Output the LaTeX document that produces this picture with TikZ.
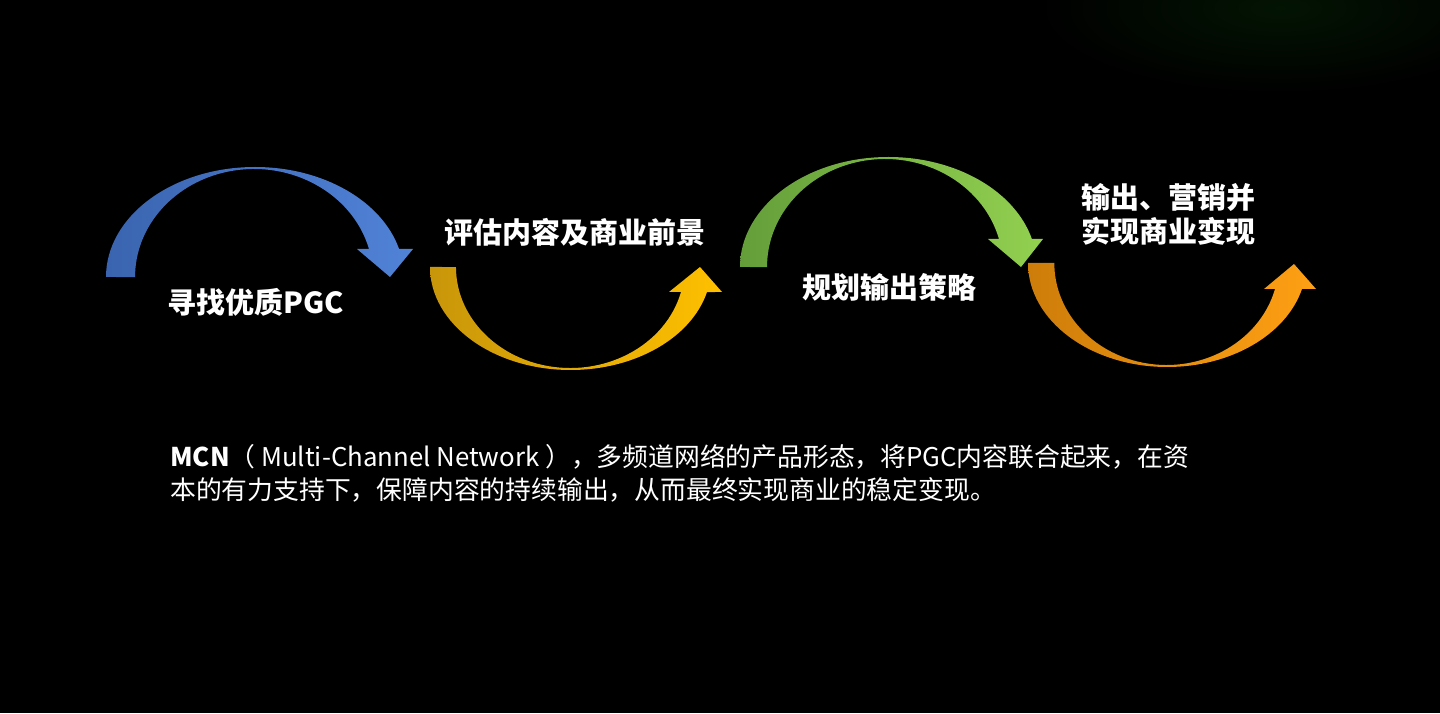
\documentclass[tikz,border=0pt]{standalone}
\usepackage{fontspec}
\setmainfont{Noto Sans CJK SC}
\definecolor{blueL}{RGB}{58,100,175}
\definecolor{blueR}{RGB}{80,130,215}
\definecolor{yelL}{RGB}{200,150,10}
\definecolor{yelR}{RGB}{255,192,0}
\definecolor{grnL}{RGB}{100,158,58}
\definecolor{grnR}{RGB}{146,208,80}
\definecolor{orgL}{RGB}{205,125,10}
\definecolor{orgR}{RGB}{255,160,20}
\definecolor{glow}{RGB}{3,20,3}
\tikzset{
  steplabel/.style={text=white,font=\bfseries\fontsize{29}{34}\selectfont,inner sep=0pt,align=center},
  bodytext/.style={text=white,font=\fontsize{25.8}{33}\selectfont,inner sep=0pt,align=left,anchor=west}
}
\begin{document}
\begin{tikzpicture}[x=1pt,y=1pt]
\useasboundingbox (0,0) rectangle (1440,713);
\fill[black] (0,0) rectangle (1440,713);
\shade[inner color=glow,outer color=black] (1280,705) ellipse [x radius=240pt,y radius=85pt];
% blue arrow
\shade[left color=blueL,right color=blueR]
  (106,436) arc[start angle=180,end angle=14.75,x radius=149pt,y radius=110pt]
  -- (413,464) -- (390,436) -- (357,464) -- (369,464)
  arc[start angle=15.03,end angle=180,x radius=119pt,y radius=108pt] -- cycle;
% yellow arrow
\shade[left color=yelL,right color=yelR]
  (430,446) arc[start angle=180,end angle=345.95,x radius=140.6pt,y radius=103pt]
  -- (722,421) -- (700,446) -- (669,421) -- (681,421)
  arc[start angle=345.67,end angle=180,x radius=114.3pt,y radius=101pt] -- cycle;
% green arrow
\shade[left color=grnL,right color=grnR]
  (740,446) arc[start angle=180,end angle=14.75,x radius=148.4pt,y radius=110pt]
  -- (1043,474) -- (1021,446) -- (988,474) -- (999,474)
  arc[start angle=15.03,end angle=180,x radius=118pt,y radius=108pt] -- cycle;
% orange arrow
\shade[left color=orgL,right color=orgR]
  (1028,450) arc[start angle=180,end angle=345.52,x radius=139.2pt,y radius=104pt]
  -- (1316,424) -- (1294,449) -- (1264,424) -- (1275,424)
  arc[start angle=345.23,end angle=180,x radius=112.2pt,y radius=102pt] -- cycle;
% labels
\node[steplabel] (s1) at (255.5,411) {寻找优质PGC};
\node[steplabel] (s2) at (575,481) {评估内容及商业前景};
\node[steplabel] (s3) at (889,426) {规划输出策略};
\node[steplabel] (s4) at (1168,499) {输出、营销并\\实现商业变现};
\node[bodytext] (body) at (170,239.5) {{\bfseries MCN}（ Multi-Channel Network ），多频道网络的产品形态，将PGC内容联合起来，在资\\本的有力支持下，保障内容的持续输出，从而最终实现商业的稳定变现。};
\end{tikzpicture}
\end{document}
